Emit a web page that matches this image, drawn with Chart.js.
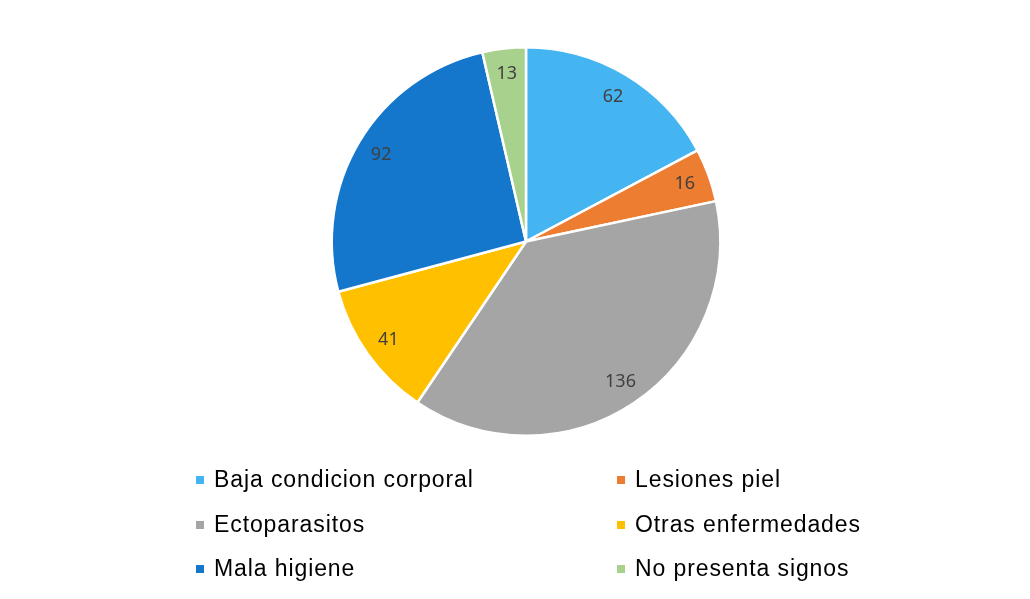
<!DOCTYPE html>
<html>
<head>
<meta charset="utf-8">
<script src="https://cdn.jsdelivr.net/npm/chart.js@4/dist/chart.umd.min.js"></script>
<style>
  html, body { margin: 0; padding: 0; background: #fff; }
  #wrap { width: 1030px; height: 599px; position: relative; }
</style>
</head>
<body>
<div id="wrap"><canvas id="chart_signos"></canvas></div>
<script>
// data
const categories = [
  "Baja condicion corporal",
  "Lesiones piel",
  "Ectoparasitos",
  "Otras enfermedades",
  "Mala higiene",
  "No presenta signos",
];
const counts = [62, 16, 136, 41, 92, 13];
const sliceColors = ["#45B5F2", "#ED7D31", "#A5A5A5", "#FFC000", "#1477CC", "#A9D18E"];

// value labels inside each slice, near the rim
const sliceLabels = {
  id: "sliceLabels",
  afterDatasetsDraw(chart) {
    const ctx = chart.ctx;
    const meta = chart.getDatasetMeta(0);
    ctx.save();
    ctx.font = '18px "Noto Sans"';
    ctx.fillStyle = "#404040";
    ctx.textAlign = "center";
    ctx.textBaseline = "middle";
    meta.data.forEach(function (arc, i) {
      const p = arc.getProps(["x", "y", "startAngle", "endAngle", "outerRadius"], true);
      const mid = (p.startAngle + p.endAngle) / 2;
      const r = p.outerRadius * 0.87;
      ctx.fillText(String(chart.data.datasets[0].data[i]), p.x + Math.cos(mid) * r, p.y + Math.sin(mid) * r);
    });
    ctx.restore();
  },
};

// two-column legend under the pie
const gridLegend = {
  id: "gridLegend",
  afterDraw(chart) {
    const ctx = chart.ctx;
    const colX = [196, 617];
    const rowY = [480, 525, 569];
    ctx.save();
    ctx.font = '23px "Liberation Sans"';
    ctx.letterSpacing = "0.9px";
    ctx.textBaseline = "middle";
    chart.data.labels.forEach(function (label, i) {
      const x = colX[i % 2];
      const y = rowY[Math.floor(i / 2)];
      ctx.fillStyle = chart.data.datasets[0].backgroundColor[i];
      ctx.fillRect(x, y - 4, 8, 8);
      ctx.fillStyle = "#000";
      ctx.fillText(label, x + 18, y + 1);
    });
    ctx.restore();
  },
};

new Chart(document.getElementById("chart_signos"), {
  type: "pie",
  data: {
    labels: categories,
    datasets: [
      {
        data: counts,
        backgroundColor: sliceColors,
        borderColor: "#ffffff",
        borderWidth: 2.5,
        hoverOffset: 0,
      },
    ],
  },
  options: {
    responsive: true,
    maintainAspectRatio: false,
    animation: false,
    layout: {
      padding: { left: 22, right: 0, top: 46, bottom: 162 },
    },
    plugins: {
      legend: { display: false },
      tooltip: { enabled: false },
    },
  },
  plugins: [sliceLabels, gridLegend],
});
</script>
</body>
</html>
